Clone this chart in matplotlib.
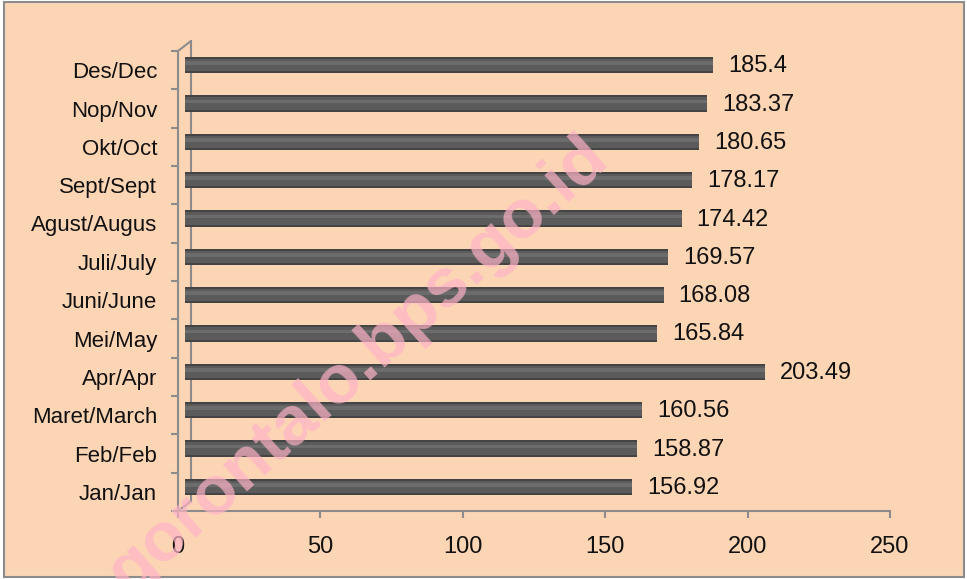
import numpy as np
import matplotlib
matplotlib.use('Agg')
import matplotlib.pyplot as plt
from matplotlib.patches import Rectangle
from matplotlib.transforms import ScaledTranslation

months = ['Jan/Jan', 'Feb/Feb', 'Maret/March', 'Apr/Apr', 'Mei/May', 'Juni/June',
          'Juli/July', 'Agust/Augus', 'Sept/Sept', 'Okt/Oct', 'Nop/Nov', 'Des/Dec']
values = [156.92, 158.87, 160.56, 203.49, 165.84, 168.08,
          169.57, 174.42, 178.17, 180.65, 183.37, 185.4]
xticks = [0, 50, 100, 150, 200, 250]

plt.rcParams['font.family'] = ['Liberation Sans', 'DejaVu Sans']

fig = plt.figure(figsize=(9.67, 5.79), dpi=100)
fig.patch.set_facecolor('white')
# peach panel with grey frame
fig.patches.append(Rectangle((4/967, 2/579), 960/967, 575/579, transform=fig.transFigure,
                             facecolor='#fcd5b5', edgecolor='#8c8c8c', linewidth=1.5, zorder=0))

ax = fig.add_axes([178/967, 68/579, 712/967, 460/579])
ax.set_zorder(2)
ax.set_facecolor('none')
axc = '#8c8c8c'

y = np.arange(len(months))
# 3D depth shift for the bars
shift = ax.transData + ScaledTranslation(7/100, 5/100, fig.dpi_scale_trans)
hl = ax.transData + ScaledTranslation(7/100, 7/100, fig.dpi_scale_trans)
ax.barh(y, values, height=0.43, color='#444444', transform=shift, zorder=3)
ax.barh(y, values, height=0.33, color='#5b5b5b', transform=shift, zorder=4)
ax.barh(y, values, height=0.10, color='#6c6c6c', transform=hl, zorder=5)

for i, v in enumerate(values):
    ax.annotate('%g' % v, (v, i), xytext=(22, 4), textcoords='offset pixels',
                ha='left', va='center', fontsize=17, color='#111111', zorder=6)

ax.set_xlim(0, 250)
ax.set_ylim(-0.5, len(months) - 0.5)
ax.set_xticks(xticks)
ax.set_yticks(y)
ax.set_yticklabels(months)
ax.set_yticks(np.arange(-0.5, len(months)), minor=True)
ax.tick_params(axis='y', which='major', length=0, pad=15, labelsize=16, labelcolor='#111111')
ax.tick_params(axis='y', which='minor', length=5, width=1.5, color=axc, direction='out')
ax.tick_params(axis='x', length=5, width=1.5, color=axc, pad=13, labelsize=17, labelcolor='#111111')

for s in ['top', 'right']:
    ax.spines[s].set_visible(False)
for s in ['left', 'bottom']:
    ax.spines[s].set_color(axc)
    ax.spines[s].set_linewidth(1.5)

# back wall edge of the 3D frame
back = ax.transAxes + ScaledTranslation(13/100, 10/100, fig.dpi_scale_trans)
ax.plot([0, 0], [0, 1], color=axc, lw=1.5, transform=back, clip_on=False, zorder=2)
for yy in [0, 1]:
    ax.annotate('', xy=(0, yy), xycoords='axes fraction', xytext=(13, 10),
                textcoords='offset pixels',
                arrowprops=dict(arrowstyle='-', color=axc, lw=1.5, shrinkA=0, shrinkB=0))

# watermark
fig.text(0.37, 0.37, 'gorontalo.bps.go.id', rotation=42, fontsize=50, fontweight='bold',
         color='#ffb3c6', alpha=0.7, ha='center', va='center', zorder=10)

fig.savefig('out.png', dpi=100)
